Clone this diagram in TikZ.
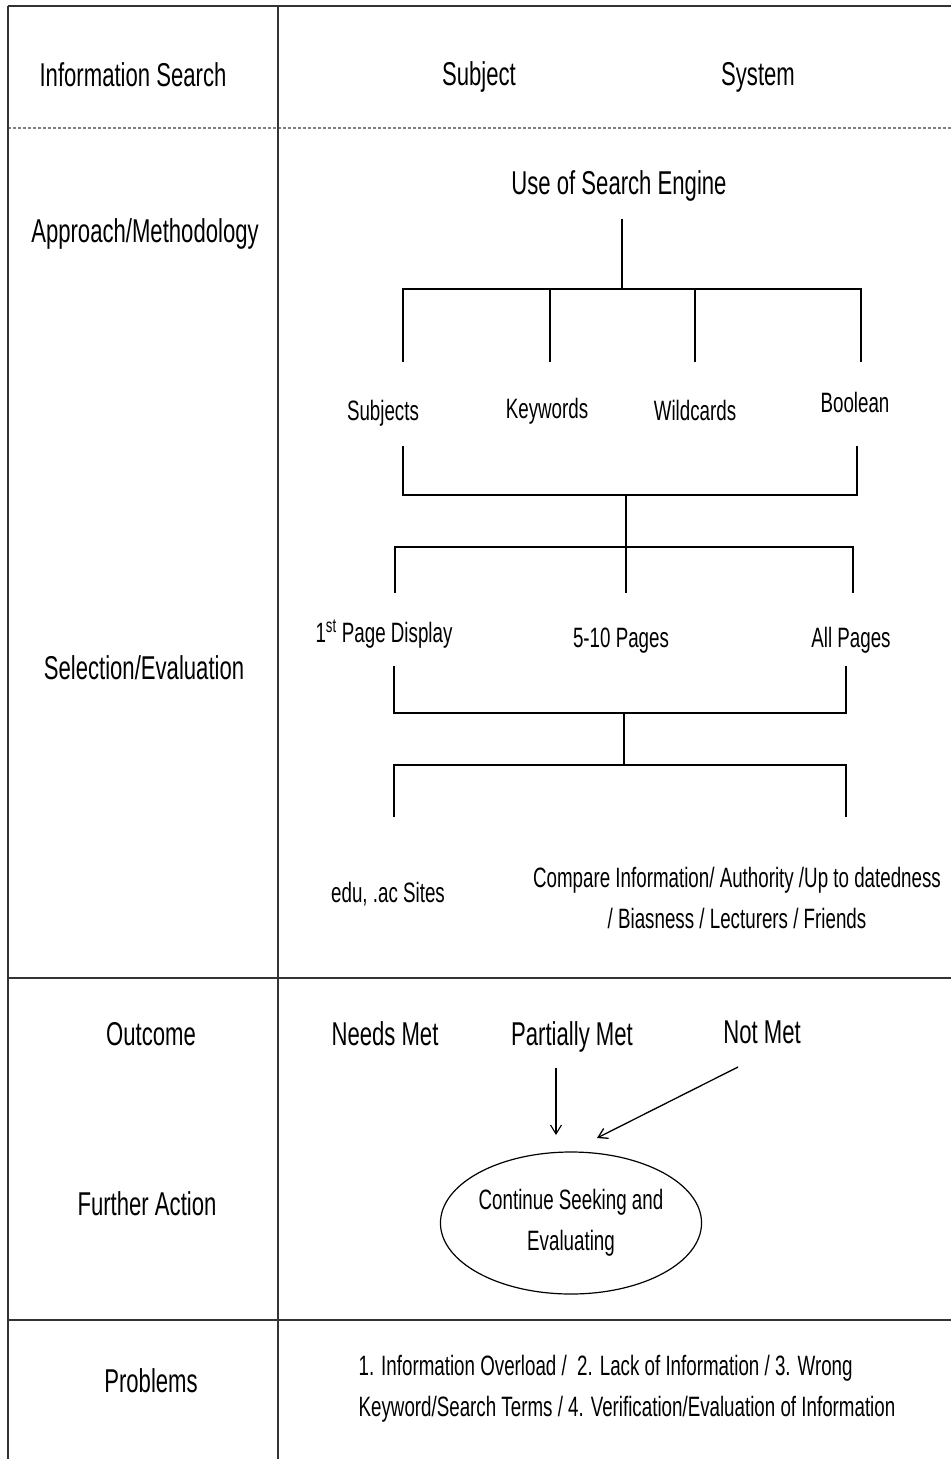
\documentclass[tikz,border=0pt]{standalone}
\usepackage{fontspec}
\setmainfont[FakeStretch=0.67]{Liberation Sans}
\usetikzlibrary{arrows.meta,shapes.geometric}
\newcommand\labfont{\fontsize{33}{40}\selectfont}
\newcommand\txtfont{\fontsize{28}{41}\selectfont}

\begin{document}
\begin{tikzpicture}
[x=1pt, y=-1pt, nodes={inner sep=0pt, text height=20pt, text depth=0pt, font=\txtfont},
 lab/.style={font=\labfont, text height=24pt},
 multi/.style={text height={}, text depth={}},
 >={Straight Barb[length=9pt, width=11pt]}, line width=1.3pt]
\useasboundingbox (0,0) rectangle (951,1459);

% table frame
\draw [line width=2.2pt, black!80] (8,6) -- (951,6);
\draw [line width=1.5pt, black!50, dash pattern=on 3pt off 2pt] (8,128) -- (951,128);
\draw [line width=2.2pt, black!80] (8,978) -- (951,978);
\draw [line width=2.2pt, black!80] (8,1320) -- (951,1320);
\draw [line width=1.2pt, black!80] (8,6) -- (8,1459);
\draw [line width=1.2pt, black!80] (278,6) -- (278,1459);

% left column and header
\node (InfoSearch) at (133,74) [lab] {Information Search};
\node (Subject) at (479,73) [lab] {Subject};
\node (System) at (758,73) [lab] {System};
\node (Approach) at (145,230) [lab] {Approach/Methodology};
\node (Selection) at (144,667) [lab] {Selection/Evaluation};
\node (Outcome) at (151,1033) [lab] {Outcome};
\node (Further) at (147,1203) [lab] {Further Action};
\node (Problems) at (151,1380) [lab] {Problems};

% search engine tree
\node (Use) at (619,182) [lab] {Use of Search Engine};
\coordinate (Fork1) at (622,289);
\coordinate (B1a) at (403,362);
\coordinate (B1b) at (550,362);
\coordinate (B1c) at (695,362);
\coordinate (B1d) at (861,362);
\draw [shorten <=24pt] (Use.south -| Fork1) -- (Fork1);
\draw (B1a) |- (Fork1) -| (B1d);
\draw (B1b) -- (B1b |- Fork1);
\draw (B1c) -- (B1c |- Fork1);

\node (Subjects) at (383,410) {Subjects};
\node (Keywords) at (547,408) {Keywords};
\node (Wildcards) at (695,410) {Wildcards};
\node (Boolean) at (855,402) {Boolean};

\coordinate (B2a) at (403,446);
\coordinate (B2b) at (857,446);
\coordinate (Merge2) at (626,495);
\coordinate (Fork2) at (626,547);
\coordinate (B3a) at (395,593);
\coordinate (B3b) at (626,593);
\coordinate (B3c) at (853,593);
\draw (B2a) |- (Merge2) -| (B2b);
\draw (Merge2) -- (Fork2);
\draw (B3a) |- (Fork2) -| (B3c);
\draw (Fork2) -- (B3b);

\node (FirstPage) at (384,632) {1\textsuperscript{st} Page Display};
\node (FiveTen) at (621,637) {5-10 Pages};
\node (AllPages) at (851,637) {All Pages};

\coordinate (B4a) at (394,666);
\coordinate (B4b) at (846,666);
\coordinate (Merge4) at (624,713);
\coordinate (Fork4) at (624,765);
\coordinate (B5a) at (394,817);
\coordinate (B5b) at (846,817);
\draw (B4a) |- (Merge4) -| (B4b);
\draw (Merge4) -- (Fork4);
\draw (B5a) |- (Fork4) -| (B5b);

\node (Sites) at (388,892) {edu, .ac Sites};
\node (Compare) at (737,898) [multi, align=center]
  {Compare Information/ Authority /Up to datedness\\/ Biasness / Lecturers / Friends};

% outcome
\node (NeedsMet) at (385,1033) [lab] {Needs Met};
\node (Partial) at (572,1033) [lab] {Partially Met};
\node (NotMet) at (762,1031) [lab] {Not Met};
\node (Cont) at (571,1223) [ellipse, draw, line width=1.2pt, minimum width=260pt,
  minimum height=142pt, multi, align=center]
  {Continue Seeking and\\Evaluating};
\coordinate (PartHead) at (556,1135);
\coordinate (NotTail) at (738,1067);
\coordinate (NotHead) at (597,1138);
\draw [->, line width=1.1pt, shorten <=22pt] (Partial.south -| PartHead) -- (PartHead);
\draw [->, line width=1.3pt] (NotTail) -- (NotHead);

% problems
\node (ProblemList) at (358,1389) [anchor=west, multi, align=left]
  {1. Information Overload /~~2. Lack of Information / 3. Wrong\\Keyword/Search Terms / 4. Verification/Evaluation of Information};
\end{tikzpicture}
\end{document}
